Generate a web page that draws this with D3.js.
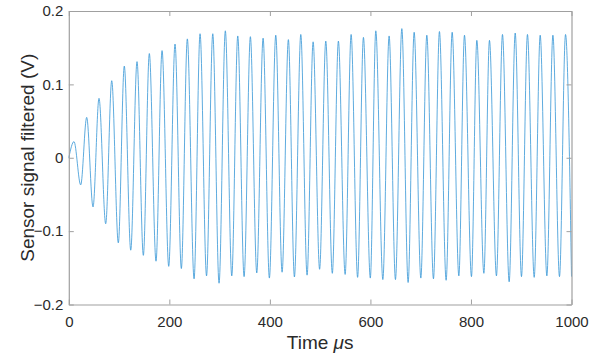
<!DOCTYPE html>
<html>
<head>
<meta charset="utf-8">
<script src="https://cdn.jsdelivr.net/npm/d3@7"></script>
<style>
  html, body { margin: 0; padding: 0; background: #ffffff; }
  svg { display: block; }
</style>
</head>
<body>
<div id="chart"></div>
<script>
// ---- Data ----
const peakTimes = [10.3, 35.6, 60.1, 85.4, 110.4, 135.7, 160.2, 185.5, 211.3, 235.8,
  261.1, 286.4, 311.4, 336.1, 361.2, 386.5, 411.7, 436.8, 461.5, 486.0,
  511.2, 536.3, 561.6, 586.1, 610.7, 637.2, 662.5, 687.0, 712.2, 737.3,
  762.6, 787.1, 811.7, 836.8, 862.7, 888.0, 912.4, 937.7, 963.0, 988.1];
const peakValues = [0.022, 0.055, 0.081, 0.105, 0.125, 0.131, 0.142, 0.146, 0.155, 0.162,
  0.169, 0.169, 0.173, 0.166, 0.165, 0.163, 0.167, 0.161, 0.168, 0.158,
  0.159, 0.159, 0.168, 0.164, 0.173, 0.166, 0.176, 0.171, 0.167, 0.172,
  0.171, 0.167, 0.160, 0.160, 0.168, 0.170, 0.168, 0.167, 0.167, 0.168];
const troughTimes = [23.7, 48.2, 73.4, 98.5, 123.2, 148.3, 173.5, 198.8, 223.9, 249.2,
  274.0, 298.9, 324.2, 348.7, 373.9, 399.0, 424.3, 448.8, 474.0, 498.9,
  524.2, 549.7, 574.5, 599.8, 624.7, 649.8, 675.0, 700.3, 725.4, 750.6,
  775.9, 801.0, 825.7, 850.7, 876.0, 900.5, 925.8, 951.0, 976.1];
const troughValues = [-0.037, -0.067, -0.090, -0.116, -0.126, -0.133, -0.141, -0.148, -0.151, -0.165,
  -0.161, -0.171, -0.161, -0.162, -0.157, -0.164, -0.156, -0.1625, -0.160, -0.152,
  -0.1575, -0.159, -0.163, -0.164, -0.166, -0.166, -0.170, -0.164, -0.165, -0.167,
  -0.161, -0.162, -0.1575, -0.161, -0.169, -0.162, -0.163, -0.161, -0.162];
const edgeTimes = [0, 1000];
const edgeValues = [0, -0.162];

const xTicks = [0, 200, 400, 600, 800, 1000];
const yTicks = [-0.2, -0.1, 0, 0.1, 0.2];
const xLabel = "Time ";
const xLabelUnit = "\u03BC";
const xLabelTail = "s";
const yLabel = "Sensor signal filtered (V)";

// ---- Layout ----
const W = 591, H = 358;
const margin = { left: 68.8, right: 19.5, top: 11, bottom: 53.5 };
const iw = W - margin.left - margin.right;
const ih = H - margin.top - margin.bottom;

const svg = d3.select("#chart").append("svg")
  .attr("width", W).attr("height", H)
  .style("font-family", "'Liberation Sans', Arial, Helvetica, sans-serif");

const g = svg.append("g").attr("transform", `translate(${margin.left},${margin.top})`);

const x = d3.scaleLinear().domain([0, 1000]).range([0, iw]);
const y = d3.scaleLinear().domain([-0.2, 0.2]).range([ih, 0]);

// ---- Signal ----
const pts = [];
edgeTimes.forEach((t, i) => pts.push([t, edgeValues[i]]));
peakTimes.forEach((t, i) => pts.push([t, peakValues[i]]));
troughTimes.forEach((t, i) => pts.push([t, troughValues[i]]));
pts.sort((a, b) => a[0] - b[0]);

const line = d3.line()
  .x(d => x(d[0]))
  .y(d => y(d[1]))
  .curve(d3.curveMonotoneX);

g.append("path")
  .datum(pts)
  .attr("fill", "none")
  .attr("stroke", "#3596d6")
  .attr("stroke-width", 0.8)
  .attr("d", line);

// ---- Axes ----
const axisColor = "#a0a0a0";
const textColor = "#2a2a2a";
const tickFont = 15;

function styleAxis(sel) {
  sel.select(".domain").attr("stroke", axisColor).attr("stroke-width", 1.2);
  sel.selectAll(".tick line").attr("stroke", axisColor).attr("stroke-width", 1);
  sel.selectAll(".tick text").attr("fill", textColor).style("font-size", tickFont + "px");
}

const xb = g.append("g").attr("transform", `translate(0,${ih})`)
  .call(d3.axisBottom(x).tickValues(xTicks).tickSizeInner(-5).tickSizeOuter(0)
    .tickPadding(12).tickFormat(d3.format("d")));
styleAxis(xb);

const xt = g.append("g")
  .call(d3.axisTop(x).tickValues(xTicks).tickSizeInner(-5).tickSizeOuter(0).tickFormat(""));
styleAxis(xt);

const yl = g.append("g")
  .call(d3.axisLeft(y).tickValues(yTicks).tickSizeInner(-5).tickSizeOuter(0)
    .tickPadding(5.5).tickFormat(d => d === 0 ? "0" : d3.format(".1f")(d)));
styleAxis(yl);

const yr = g.append("g").attr("transform", `translate(${iw},0)`)
  .call(d3.axisRight(y).tickValues(yTicks).tickSizeInner(-5).tickSizeOuter(0).tickFormat(""));
styleAxis(yr);

// ---- Axis labels ----
const xl = svg.append("text")
  .attr("x", margin.left + iw / 2)
  .attr("y", 348.5)
  .attr("text-anchor", "middle")
  .attr("fill", textColor)
  .style("font-size", "19px");
xl.append("tspan").text(xLabel);
xl.append("tspan").style("font-style", "italic").text(xLabelUnit);
xl.append("tspan").text(xLabelTail);

svg.append("text")
  .attr("transform", `translate(33.5,${margin.top + ih / 2}) rotate(-90)`)
  .attr("text-anchor", "middle")
  .attr("fill", textColor)
  .style("font-size", "19px")
  .text(yLabel);
</script>
</body>
</html>
